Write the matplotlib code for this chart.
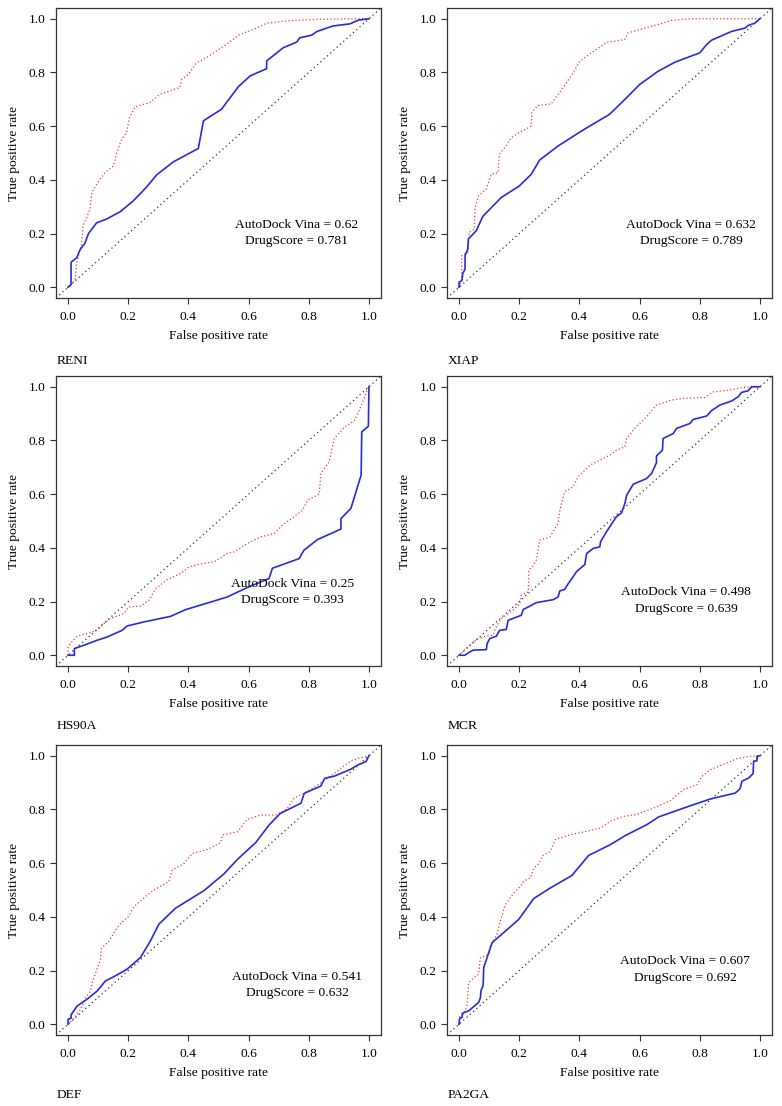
import matplotlib
matplotlib.use("Agg")
import matplotlib.pyplot as plt

plt.rcParams['font.family'] = ['Liberation Serif', 'DejaVu Serif']

# ROC curves: (fpr, tpr) for AutoDock Vina and DrugScore
reni_vina_fpr = [0, 0.01, 0.01, 0.029, 0.04, 0.056, 0.068, 0.095, 0.128, 0.173, 0.217, 0.26, 0.295, 0.35, 0.433, 0.45, 0.51, 0.566, 0.605, 0.66, 0.66, 0.715, 0.76, 0.77, 0.81, 0.826, 0.88, 0.937, 0.965, 1]
reni_vina_tpr = [0, 0.01, 0.093, 0.11, 0.14, 0.164, 0.2, 0.24, 0.254, 0.281, 0.322, 0.372, 0.419, 0.467, 0.517, 0.62, 0.663, 0.747, 0.787, 0.814, 0.843, 0.892, 0.913, 0.929, 0.939, 0.952, 0.973, 0.981, 0.995, 1]
reni_ds_fpr = [0, 0.023, 0.029, 0.045, 0.05, 0.06, 0.073, 0.079, 0.106, 0.123, 0.151, 0.162, 0.178, 0.195, 0.204, 0.223, 0.272, 0.306, 0.372, 0.378, 0.4, 0.427, 0.46, 0.527, 0.571, 0.616, 0.66, 0.715, 0.826, 0.97, 1]
reni_ds_tpr = [0, 0.025, 0.093, 0.161, 0.23, 0.254, 0.291, 0.353, 0.403, 0.427, 0.452, 0.502, 0.551, 0.576, 0.632, 0.672, 0.688, 0.719, 0.744, 0.774, 0.793, 0.836, 0.855, 0.905, 0.942, 0.96, 0.983, 0.991, 0.998, 1, 1]

xiap_vina_fpr = [0, 0, 0.01, 0.012, 0.02, 0.02, 0.029, 0.031, 0.057, 0.079, 0.14, 0.2, 0.24, 0.268, 0.329, 0.407, 0.5, 0.556, 0.6, 0.661, 0.717, 0.8, 0.822, 0.839, 0.906, 0.95, 0.961, 0.983, 1]
xiap_vina_tpr = [0, 0.019, 0.025, 0.05, 0.068, 0.118, 0.142, 0.18, 0.21, 0.264, 0.334, 0.377, 0.421, 0.474, 0.526, 0.582, 0.644, 0.705, 0.755, 0.804, 0.838, 0.873, 0.903, 0.92, 0.953, 0.965, 0.975, 0.984, 1]
xiap_ds_fpr = [0, 0.009, 0.009, 0.029, 0.034, 0.051, 0.053, 0.064, 0.09, 0.107, 0.13, 0.134, 0.156, 0.173, 0.2, 0.24, 0.242, 0.262, 0.306, 0.329, 0.357, 0.379, 0.401, 0.44, 0.49, 0.55, 0.561, 0.617, 0.661, 0.706, 0.772, 1]
xiap_ds_tpr = [0, 0.031, 0.118, 0.13, 0.204, 0.217, 0.291, 0.34, 0.365, 0.421, 0.427, 0.495, 0.526, 0.557, 0.576, 0.6, 0.652, 0.677, 0.683, 0.718, 0.761, 0.798, 0.842, 0.873, 0.912, 0.922, 0.947, 0.965, 0.978, 0.994, 1, 1]

hs90a_vina_fpr = [0, 0.021, 0.021, 0.052, 0.097, 0.13, 0.18, 0.196, 0.252, 0.341, 0.391, 0.529, 0.601, 0.668, 0.679, 0.768, 0.784, 0.829, 0.907, 0.907, 0.94, 0.974, 0.976, 0.998, 1]
hs90a_vina_tpr = [0, 0, 0.025, 0.037, 0.056, 0.068, 0.093, 0.109, 0.124, 0.145, 0.17, 0.217, 0.255, 0.286, 0.324, 0.36, 0.391, 0.431, 0.47, 0.509, 0.547, 0.671, 0.832, 0.853, 1]
hs90a_ds_fpr = [0, 0, 0.013, 0.03, 0.063, 0.097, 0.113, 0.141, 0.185, 0.202, 0.241, 0.269, 0.291, 0.33, 0.374, 0.402, 0.43, 0.485, 0.529, 0.552, 0.596, 0.64, 0.685, 0.712, 0.751, 0.779, 0.796, 0.835, 0.84, 0.868, 0.885, 0.918, 0.951, 0.968, 0.984, 0.996, 1]
hs90a_ds_tpr = [0, 0.031, 0.05, 0.071, 0.081, 0.093, 0.112, 0.137, 0.155, 0.18, 0.183, 0.205, 0.248, 0.282, 0.304, 0.329, 0.338, 0.348, 0.379, 0.385, 0.416, 0.441, 0.453, 0.484, 0.516, 0.54, 0.578, 0.6, 0.677, 0.721, 0.808, 0.849, 0.873, 0.913, 0.957, 0.994, 1]

mcr_vina_fpr = [0, 0.019, 0.035, 0.047, 0.091, 0.093, 0.102, 0.124, 0.135, 0.157, 0.163, 0.207, 0.213, 0.257, 0.313, 0.329, 0.335, 0.351, 0.363, 0.379, 0.39, 0.418, 0.424, 0.446, 0.468, 0.47, 0.49, 0.523, 0.54, 0.551, 0.557, 0.579, 0.623, 0.64, 0.656, 0.656, 0.676, 0.678, 0.712, 0.723, 0.767, 0.778, 0.823, 0.839, 0.867, 0.906, 0.928, 0.939, 0.961, 0.972, 1]
mcr_vina_tpr = [0, 0, 0.012, 0.019, 0.021, 0.043, 0.062, 0.071, 0.093, 0.096, 0.13, 0.149, 0.17, 0.196, 0.207, 0.217, 0.24, 0.245, 0.267, 0.292, 0.311, 0.338, 0.379, 0.398, 0.404, 0.422, 0.46, 0.516, 0.53, 0.565, 0.596, 0.637, 0.658, 0.677, 0.717, 0.742, 0.764, 0.807, 0.826, 0.845, 0.863, 0.878, 0.891, 0.911, 0.932, 0.947, 0.963, 0.979, 0.985, 1, 1]
mcr_ds_fpr = [0, 0.035, 0.063, 0.091, 0.113, 0.124, 0.141, 0.18, 0.202, 0.207, 0.23, 0.232, 0.246, 0.257, 0.268, 0.302, 0.329, 0.335, 0.351, 0.379, 0.396, 0.435, 0.501, 0.523, 0.551, 0.557, 0.584, 0.623, 0.656, 0.706, 0.745, 0.817, 0.845, 0.9, 0.945, 1]
mcr_ds_tpr = [0, 0.037, 0.062, 0.071, 0.075, 0.108, 0.137, 0.168, 0.193, 0.224, 0.236, 0.317, 0.333, 0.355, 0.429, 0.441, 0.491, 0.54, 0.609, 0.627, 0.665, 0.708, 0.745, 0.764, 0.776, 0.807, 0.845, 0.888, 0.932, 0.95, 0.957, 0.96, 0.981, 0.988, 0.998, 1]

def_vina_fpr = [0, 0, 0.01, 0.01, 0.03, 0.063, 0.097, 0.124, 0.152, 0.196, 0.241, 0.274, 0.302, 0.357, 0.452, 0.518, 0.563, 0.624, 0.668, 0.705, 0.774, 0.785, 0.84, 0.853, 0.885, 0.94, 0.962, 0.99, 1]
def_vina_tpr = [0, 0.019, 0.022, 0.035, 0.068, 0.093, 0.124, 0.161, 0.177, 0.205, 0.249, 0.311, 0.373, 0.432, 0.498, 0.56, 0.614, 0.677, 0.742, 0.785, 0.823, 0.86, 0.887, 0.916, 0.924, 0.95, 0.965, 0.978, 1]
def_ds_fpr = [0, 0.019, 0.041, 0.058, 0.074, 0.08, 0.097, 0.108, 0.111, 0.135, 0.158, 0.175, 0.202, 0.219, 0.241, 0.263, 0.285, 0.335, 0.346, 0.385, 0.413, 0.463, 0.507, 0.513, 0.563, 0.596, 0.64, 0.69, 0.729, 0.751, 0.818, 0.862, 0.907, 0.94, 0.973, 1]
def_ds_tpr = [0, 0.022, 0.053, 0.099, 0.122, 0.153, 0.208, 0.242, 0.283, 0.308, 0.351, 0.376, 0.403, 0.438, 0.459, 0.481, 0.5, 0.531, 0.574, 0.599, 0.636, 0.651, 0.676, 0.705, 0.717, 0.763, 0.779, 0.779, 0.804, 0.841, 0.882, 0.916, 0.953, 0.981, 0.993, 1]

pa2ga_vina_fpr = [0, 0.002, 0.01, 0.012, 0.032, 0.065, 0.071, 0.073, 0.08, 0.082, 0.11, 0.148, 0.198, 0.248, 0.298, 0.375, 0.431, 0.503, 0.553, 0.625, 0.663, 0.769, 0.835, 0.918, 0.934, 0.94, 0.962, 0.977, 0.979, 0.99, 0.99, 1]
pa2ga_vina_tpr = [0, 0.022, 0.025, 0.041, 0.05, 0.081, 0.099, 0.126, 0.143, 0.211, 0.304, 0.341, 0.39, 0.468, 0.504, 0.554, 0.629, 0.669, 0.703, 0.744, 0.772, 0.814, 0.839, 0.861, 0.877, 0.905, 0.917, 0.933, 0.979, 0.981, 0.998, 1]
pa2ga_ds_fpr = [0, 0.002, 0.021, 0.027, 0.032, 0.049, 0.065, 0.071, 0.099, 0.104, 0.126, 0.137, 0.154, 0.182, 0.204, 0.215, 0.237, 0.248, 0.265, 0.276, 0.303, 0.32, 0.37, 0.425, 0.47, 0.503, 0.547, 0.591, 0.647, 0.702, 0.746, 0.791, 0.807, 0.835, 0.89, 0.923, 0.968, 1]
pa2ga_ds_tpr = [0, 0.031, 0.05, 0.074, 0.155, 0.173, 0.186, 0.248, 0.26, 0.291, 0.335, 0.384, 0.446, 0.489, 0.514, 0.533, 0.545, 0.582, 0.597, 0.626, 0.644, 0.688, 0.706, 0.719, 0.731, 0.756, 0.774, 0.782, 0.805, 0.833, 0.874, 0.892, 0.923, 0.948, 0.973, 0.989, 0.998, 1]

targets = ['RENI', 'XIAP', 'HS90A', 'MCR', 'DEF', 'PA2GA']
vina_auc = ['0.62', '0.632', '0.25', '0.498', '0.541', '0.607']
ds_auc = ['0.781', '0.789', '0.393', '0.639', '0.632', '0.692']

curves = [
    (reni_vina_fpr, reni_vina_tpr, reni_ds_fpr, reni_ds_tpr),
    (xiap_vina_fpr, xiap_vina_tpr, xiap_ds_fpr, xiap_ds_tpr),
    (hs90a_vina_fpr, hs90a_vina_tpr, hs90a_ds_fpr, hs90a_ds_tpr),
    (mcr_vina_fpr, mcr_vina_tpr, mcr_ds_fpr, mcr_ds_tpr),
    (def_vina_fpr, def_vina_tpr, def_ds_fpr, def_ds_tpr),
    (pa2ga_vina_fpr, pa2ga_vina_tpr, pa2ga_ds_fpr, pa2ga_ds_tpr),
]

# annotation anchor (x, y of first line) per panel, in data units
text_pos = [(0.76, 0.233), (0.772, 0.233), (0.746, 0.267),
            (0.754, 0.234), (0.762, 0.177), (0.752, 0.235)]

W, H = 782, 1106
fig = plt.figure(figsize=(W / 100, H / 100), dpi=100)

col_left = [56, 447]
row_top = [8, 376, 745]
box_w, box_h = 325, 290
label_base = [364, 729, 1098]

fs = 9.7
for i, name in enumerate(targets):
    r, c = divmod(i, 2)
    left = col_left[c] / W
    bottom = 1 - (row_top[r] + box_h) / H
    ax = fig.add_axes([left, bottom, box_w / W, box_h / H])

    vf, vt, df, dt = curves[i]
    ax.axline((0, 0), (1, 1), color='#333333', lw=0.9, dashes=(1, 2.5))
    ax.plot(df, dt, color='#e8383a', lw=0.9, dashes=(1, 1.8))
    ax.plot(vf, vt, color='#2b2bd6', lw=1.2)

    tx, ty = text_pos[i]
    ax.text(tx, ty, f'AutoDock Vina = {vina_auc[i]}', ha='center', va='center', fontsize=fs)
    ax.text(tx, ty - 0.062, f'DrugScore = {ds_auc[i]}', ha='center', va='center', fontsize=fs)

    ax.set_xlim(-0.04, 1.04)
    ax.set_ylim(-0.04, 1.04)
    ticks = [0.0, 0.2, 0.4, 0.6, 0.8, 1.0]
    ax.set_xticks(ticks)
    ax.set_yticks(ticks)
    ax.set_xticklabels([f'{t:.1f}' for t in ticks])
    ax.set_yticklabels([f'{t:.1f}' for t in ticks])
    ax.tick_params(direction='out', length=4.5, width=0.8, labelsize=fs, pad=3, color='#333333')
    ax.tick_params(axis='x', pad=5)
    for s in ax.spines.values():
        s.set_linewidth(0.9)
        s.set_color('#333333')
    ax.set_xlabel('False positive rate', fontsize=fs, labelpad=5)
    ax.set_ylabel('True positive rate', fontsize=fs, labelpad=6)

    fig.text(left + 1 / W, 1 - label_base[i // 2] / H, name, fontsize=fs, va='baseline', ha='left')

fig.savefig('out.png', dpi=100)
